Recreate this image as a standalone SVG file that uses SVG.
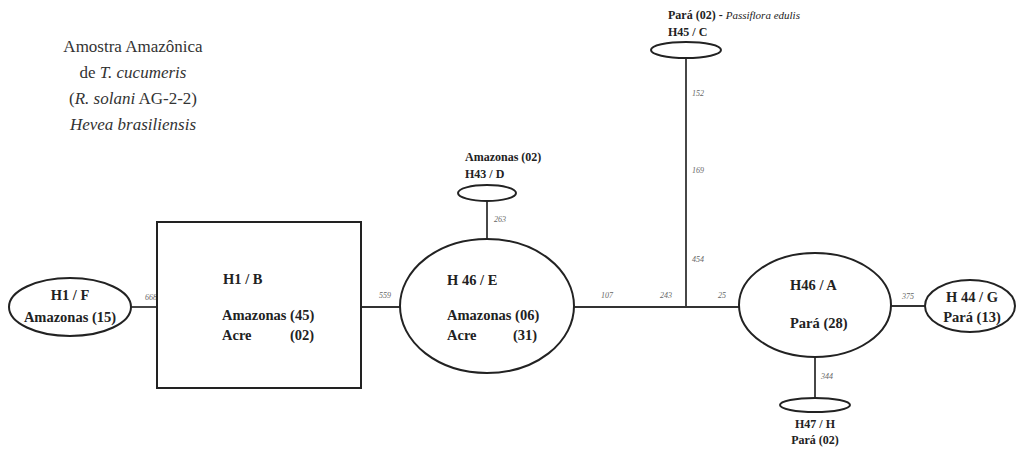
<svg xmlns="http://www.w3.org/2000/svg" width="1020" height="456" viewBox="0 0 1020 456">
<style>
.n{fill:#fff;stroke:#222;stroke-width:2}
.c line{stroke:#333;stroke-width:1.8}
.t{font-family:'Liberation Serif','Times New Roman','DejaVu Serif',serif;font-weight:bold;font-size:14.5px;fill:#222}
.s{font-size:12px}
.m{font-family:'Liberation Serif','Times New Roman','DejaVu Serif',serif;font-style:italic;font-size:8px;fill:#666}
.h{font-family:'Liberation Serif','Times New Roman','DejaVu Serif',serif;font-size:17px;fill:#333;text-anchor:middle}
</style>
<rect width="1020" height="456" fill="#fff"/>
<g id="title">
<text class="h" x="133" y="52">Amostra Amazônica</text>
<text class="h" x="133" y="78">de <tspan font-style="italic">T. cucumeris</tspan></text>
<text class="h" x="133" y="104">(<tspan font-style="italic">R. solani</tspan> AG-2-2)</text>
<text class="h" x="133" y="130" font-style="italic">Hevea brasiliensis</text>
</g>
<g class="c" id="connectors">
<line x1="131" y1="307" x2="157" y2="307"/>
<line x1="361" y1="307" x2="400" y2="307"/>
<line x1="487" y1="201" x2="487" y2="239"/>
<line x1="574" y1="307" x2="739" y2="307"/>
<line x1="686" y1="58" x2="686" y2="307"/>
<line x1="891" y1="306" x2="926" y2="306"/>
<line x1="815" y1="357" x2="815" y2="398"/>
<text class="m" x="145" y="300">668</text>
<text class="m" x="379" y="298">559</text>
<text class="m" x="494" y="222">263</text>
<text class="m" x="601" y="298">107</text>
<text class="m" x="660" y="298">243</text>
<text class="m" x="718" y="298">25</text>
<text class="m" x="692" y="96">152</text>
<text class="m" x="692" y="173">169</text>
<text class="m" x="692" y="262">454</text>
<text class="m" x="902" y="299">375</text>
<text class="m" x="821" y="379">344</text>
</g>
<g id="nodeF">
<ellipse class="n" cx="70" cy="307" rx="61" ry="29"/>
<text class="t" x="70" y="300" text-anchor="middle">H1 / F</text>
<text class="t" x="70" y="322" text-anchor="middle">Amazonas (15)</text>
</g>
<g id="nodeB">
<rect class="n" x="157" y="222" width="204" height="166"/>
<text class="t" x="223" y="284">H1 / B</text>
<text class="t" x="222" y="320">Amazonas (45)</text>
<text class="t" x="222" y="340">Acre</text>
<text class="t" x="290" y="340">(02)</text>
</g>
<g id="nodeE">
<ellipse class="n" cx="487" cy="306" rx="87" ry="67"/>
<text class="t" x="447" y="285">H 46 / E</text>
<text class="t" x="447" y="320">Amazonas (06)</text>
<text class="t" x="447" y="340">Acre</text>
<text class="t" x="513" y="340">(31)</text>
</g>
<g id="nodeD">
<ellipse class="n" cx="487" cy="193" rx="29" ry="8"/>
<text class="t s" x="465" y="161">Amazonas (02)</text>
<text class="t s" x="465" y="178">H43 / D</text>
</g>
<g id="nodeC">
<ellipse class="n" cx="686" cy="50" rx="35" ry="8"/>
<text class="t s" x="668" y="19">Pará (02) - <tspan font-weight="normal" font-style="italic" font-size="11">Passiflora edulis</tspan></text>
<text class="t s" x="668" y="36">H45 / C</text>
</g>
<g id="nodeA">
<ellipse class="n" cx="815" cy="305" rx="76" ry="52"/>
<text class="t" x="790" y="290">H46 / A</text>
<text class="t" x="790" y="328">Pará (28)</text>
</g>
<g id="nodeG">
<ellipse class="n" cx="970" cy="306" rx="45" ry="26"/>
<text class="t" x="972" y="302" text-anchor="middle">H 44 / G</text>
<text class="t" x="972" y="322" text-anchor="middle">Pará (13)</text>
</g>
<g id="nodeH">
<ellipse class="n" cx="815" cy="405" rx="35" ry="7"/>
<text class="t s" x="815" y="428" text-anchor="middle">H47 / H</text>
<text class="t s" x="815" y="444" text-anchor="middle">Pará (02)</text>
</g>
</svg>
